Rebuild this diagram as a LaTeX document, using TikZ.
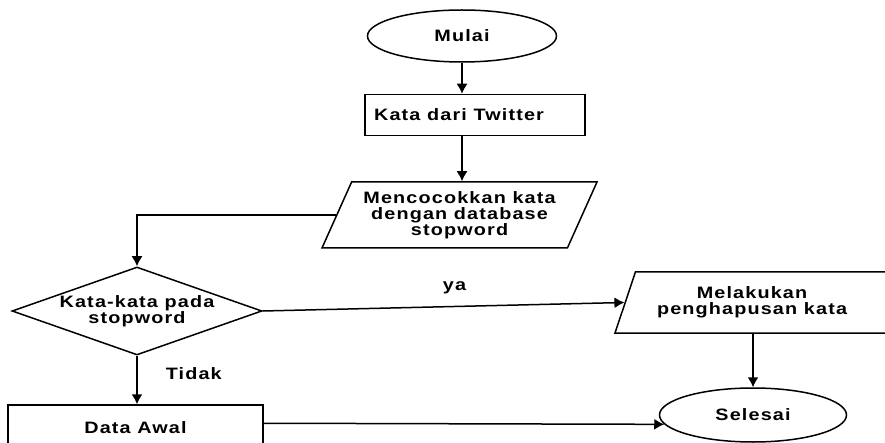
\documentclass[tikz,border=0pt]{standalone}
\usepackage{fontspec}
\setmainfont{Liberation Sans}[FakeStretch=1.2, LetterSpace=7]
\usetikzlibrary{shapes.geometric, arrows.meta}

\tikzset{
  shapebase/.style={draw, line width=1.5pt, align=center, inner sep=0pt,
    font=\fontsize{16.5}{16}\selectfont\bfseries},
  terminal/.style={shapebase, ellipse},
  procbox/.style={shapebase, rectangle},
  iobox/.style={shapebase, trapezium, trapezium left angle=58,
    trapezium right angle=122, trapezium stretches body},
  decision/.style={shapebase, diamond, aspect=2.84, inner xsep=-60pt, inner ysep=-15pt},
  flowarrow/.style={line width=1.5pt, -{Latex[length=10pt,width=11pt]}},
  flowlabel/.style={inner sep=0pt, font=\fontsize{16.5}{16}\selectfont\bfseries}
}

\begin{document}
\begin{tikzpicture}[x=1pt, y=-1pt]
  \useasboundingbox (0,0) rectangle (885,443);
  \clip (0,0) rectangle (885,443);

  % nodes
  \node[terminal, minimum width=189pt, minimum height=52pt] (mulai) at (462,36) {Mulai};
  \node[procbox, minimum width=220pt, minimum height=41pt] (kata) at (475,115)
    {\hspace*{-32pt}Kata dari Twitter};
  \node[iobox, minimum width=275pt, minimum height=66pt] (cocok) at (459.5,215)
    {Mencocokkan kata\\dengan database\\stopword};
  \node[decision, minimum width=250pt, minimum height=88pt] (stop) at (137,311)
    {Kata-kata pada\\stopword};
  \node[iobox, trapezium left angle=57, trapezium right angle=123,
        minimum width=292pt, minimum height=61pt] (hapus) at (761,302.5)
    {\hspace*{-18pt}Melakukan\\\hspace*{-18pt}penghapusan kata};
  \node[procbox, minimum width=255pt, minimum height=46pt] (awal) at (135.5,428) {Data Awal};
  \node[terminal, minimum width=187pt, minimum height=54pt] (selesai) at (753,415) {Selesai};

  % connectors
  \draw[flowarrow] (mulai.south) -- (mulai.south |- kata.north);
  \draw[flowarrow] (mulai.south |- kata.south) -- (mulai.south |- cocok.north);
  \draw[flowarrow] (cocok.west) -| (stop.north);
  \draw[flowarrow] (stop.east) -- node[flowlabel, pos=0.53, above=12pt] {ya} (hapus.west);
  \draw[flowarrow] (stop.south) -- node[flowlabel, pos=0.36, right=28pt] {Tidak} (stop.south |- awal.north);
  \draw[flowarrow] (hapus.south -| selesai.north) -- (selesai.north);
  \draw[flowarrow] ([yshift=-19pt]awal.north east) -- (selesai.186);
\end{tikzpicture}
\end{document}
